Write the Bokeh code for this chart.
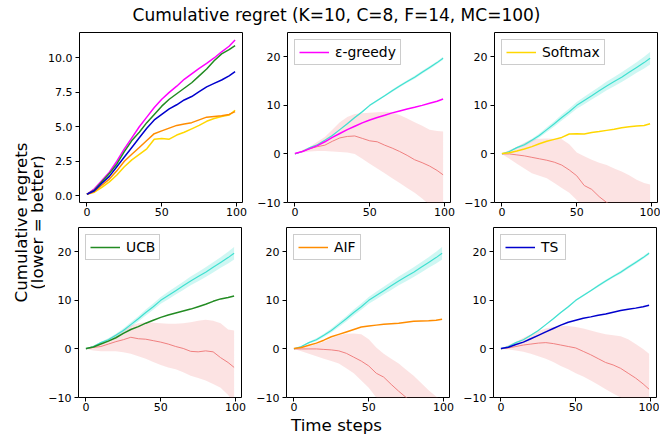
import numpy as np
from bokeh.plotting import figure
from bokeh.models import Range1d, FixedTicker, Label, NumeralTickFormatter
from bokeh.layouts import row, column
from bokeh.embed import file_html
from bokeh.resources import INLINE

# ---------------- data ----------------
T = [0, 5, 10, 15, 20, 25, 30, 35, 40, 45, 50, 55, 60, 65, 70, 75, 80, 85, 90, 95, 99]

eps_greedy = [0.1, 0.5, 1.1, 1.7, 2.5, 3.4, 4.2, 5.0, 5.7, 6.4, 7.0, 7.5, 7.95, 8.45, 8.85, 9.25, 9.6, 10.0, 10.45, 10.85, 11.3]
softmax = [0.1, 0.25, 0.6, 1.0, 1.5, 2.1, 2.6, 3.0, 3.4, 4.1, 4.15, 4.1, 4.4, 4.6, 4.85, 5.1, 5.4, 5.6, 5.75, 5.85, 6.2]
ucb = [0.1, 0.4, 1.0, 1.6, 2.3, 3.2, 4.0, 4.6, 5.3, 5.9, 6.5, 7.0, 7.4, 7.8, 8.2, 8.7, 9.2, 9.8, 10.3, 10.6, 10.9]
aif = [0.1, 0.3, 0.75, 1.2, 1.8, 2.5, 3.0, 3.5, 4.0, 4.5, 4.7, 4.9, 5.1, 5.2, 5.3, 5.5, 5.7, 5.75, 5.8, 5.9, 6.1]
ts = [0.1, 0.35, 0.9, 1.4, 2.1, 2.8, 3.5, 4.2, 4.9, 5.5, 5.9, 6.3, 6.6, 6.95, 7.2, 7.55, 7.9, 8.15, 8.4, 8.7, 9.0]

# reference (turquoise) curve and its spread
ref_curve = [0, 0.5, 1.3, 1.9, 2.8, 3.8, 5.0, 6.2, 7.5, 8.7, 10.0, 11.0, 12.0, 13.0, 14.0, 14.9, 15.8, 16.8, 17.8, 18.8, 19.7]
ref_spread_wide = [0, 0.1, 0.2, 0.3, 0.35, 0.4, 0.5, 0.55, 0.6, 0.65, 0.7, 0.75, 0.8, 0.85, 0.9, 0.95, 1.0, 1.05, 1.1, 1.2, 1.3]
ref_spread_narrow = [0, 0.05, 0.05, 0.1, 0.1, 0.1, 0.15, 0.15, 0.15, 0.2, 0.2, 0.2, 0.2, 0.25, 0.25, 0.25, 0.3, 0.3, 0.3, 0.3, 0.3]

# difference (salmon) curves with their bands
eps_diff = [0, 0.5, 1.1, 1.5, 1.8, 2.6, 3.3, 3.6, 3.7, 3.2, 2.7, 2.5, 1.8, 1.2, 0.5, -0.3, -1.2, -1.8, -2.5, -3.4, -4.3]
eps_hi = [0, 0.8, 1.5, 2.5, 3.5, 5.0, 6.5, 7.6, 8.2, 8.4, 8.5, 8.6, 8.7, 8.6, 8.0, 7.3, 6.5, 5.8, 5.0, 4.7, 4.6]
eps_lo = [0, 0.3, 0.5, 0.6, 0.6, 0.5, 0.4, 0.3, 0.0, -1.0, -2.0, -3.0, -4.0, -5.0, -6.0, -7.0, -8.0, -9.2, -10.5, -11.3, -12.0]

soft_diff = [0, 0, -0.2, -0.4, -0.7, -1.0, -1.3, -1.7, -2.3, -3.3, -4.5, -6.5, -7.3, -8.8, -10.0, -10.8, -11.5, -12.2, -13.0, -13.5, -14.0]
soft_hi = [0, 0.8, 1.5, 2.3, 3.0, 3.1, 3.2, 3.1, 3.0, 2.0, 0.3, -0.5, -1.2, -1.8, -2.3, -3.0, -3.6, -4.4, -5.3, -6.0, -6.3]
soft_lo = [0, -1.0, -2.0, -3.0, -4.0, -4.5, -5.0, -6.0, -7.0, -8.0, -9.5, -11.0, -12.0, -13.0, -14.0, -15.0, -16.0, -17.0, -18.0, -19.0, -20.0]

ucb_diff = [0, 0.3, 0.5, 1.0, 1.5, 1.9, 2.4, 2.1, 2.0, 1.7, 1.4, 1.0, 0.5, 0.1, -0.5, -0.6, -0.4, -0.6, -1.8, -2.8, -3.8]
ucb_hi = [0, 0.7, 1.3, 2.1, 3.0, 3.9, 4.8, 5.3, 5.5, 5.4, 5.3, 5.2, 5.2, 5.3, 5.5, 5.8, 6.0, 5.8, 5.3, 4.0, 3.8]
ucb_lo = [0, -0.3, -0.5, -0.5, -0.5, -0.7, -1.0, -1.5, -2.0, -2.7, -3.3, -3.8, -4.2, -4.8, -5.5, -6.0, -6.5, -7.2, -8.0, -9.5, -11.0]

aif_diff = [0, 0, 0, 0, -0.1, -0.2, -0.4, -0.9, -1.7, -2.5, -3.5, -5.0, -5.8, -7.3, -8.7, -10.0, -11.0, -11.8, -12.5, -13.0, -13.5]
aif_hi = [0, 0.2, 0.5, 1.0, 1.5, 2.2, 2.8, 3.1, 3.2, 3.0, 2.0, 0.3, -1.0, -2.0, -3.0, -4.3, -5.5, -7.0, -8.5, -9.8, -10.5]
aif_lo = [0, -0.5, -1.0, -1.5, -2.0, -2.5, -3.0, -4.0, -5.0, -6.5, -8.0, -10.0, -11.0, -12.0, -13.0, -14.0, -15.0, -16.0, -17.0, -18.0, -19.0]

ts_diff = [0, 0.2, 0.5, 0.8, 1.0, 1.2, 1.3, 1.1, 0.8, 0.5, 0.2, -0.5, -1.2, -2.0, -2.8, -3.3, -4.0, -5.0, -6.0, -7.2, -8.3]
ts_hi = [0, 0.8, 1.5, 2.3, 3.0, 3.7, 4.2, 4.5, 4.7, 4.7, 4.5, 4.2, 3.8, 3.4, 3.0, 2.8, 2.6, 2.0, 1.0, 0.0, -1.0]
ts_lo = [0, -0.1, -0.3, -0.6, -1.0, -1.5, -2.0, -2.7, -3.5, -4.2, -5.0, -5.7, -6.5, -7.4, -8.3, -9.2, -10.0, -11.0, -12.0, -13.0, -14.0]

algo_names = ["ε-greedy", "Softmax", "UCB", "AIF", "TS"]
algo_colors = ["#ff00ff", "#ffd700", "#228b22", "#ff8c00", "#0000cd"]

title_text = "Cumulative regret (K=10, C=8, F=14, MC=100)"
ylabel_lines = ["Cumulative regrets", "(lower = better)"]
xlabel_text = "Time steps"

FONT = "DejaVu Sans"
FW, FH = 163, 170
X_RANGE = (-4.95, 103.95)


def style(p, yticks, fmt=None, overrides=None):
    p.xaxis.ticker = FixedTicker(ticks=[0, 50, 100])
    p.yaxis.ticker = FixedTicker(ticks=yticks)
    if fmt is not None:
        p.yaxis.formatter = fmt
    if overrides:
        p.yaxis.major_label_overrides = overrides
    for ax in p.axis:
        ax.axis_line_color = None
        ax.major_tick_out = 4
        ax.major_tick_in = 0
        ax.minor_tick_out = 0
        ax.minor_tick_in = 0
        ax.major_tick_line_color = "black"
        ax.major_tick_line_width = 1
        ax.major_label_text_font_size = "11px"
        ax.major_label_text_font = FONT
        ax.major_label_text_color = "black"
    p.xaxis.major_label_standoff = 1
    p.yaxis.major_label_standoff = 3
    p.grid.visible = False
    p.outline_line_color = "black"
    p.outline_line_alpha = 1
    p.outline_line_width = 1
    p.background_fill_color = "white"
    p.border_fill_color = "white"


def make_fig(left, right, top, bottom, yr):
    p = figure(frame_width=FW, frame_height=FH, output_backend="svg", toolbar_location=None,
               x_range=Range1d(*X_RANGE), y_range=Range1d(*yr),
               min_border_left=left, min_border_right=right,
               min_border_top=top, min_border_bottom=bottom)
    return p


def text_fig(w, h):
    f = figure(width=w, height=h, output_backend="svg", toolbar_location=None, title=None,
               x_range=Range1d(0, w), y_range=Range1d(0, h), min_border=0)
    f.axis.visible = False
    f.grid.visible = False
    f.outline_line_color = None
    f.background_fill_color = "white"
    f.border_fill_color = "white"
    return f


# borders per column / row
col_borders = [(32, 9), (36, 8), (36, 3)]
row_borders = [(2, 22), (3, 18)]

# panel 1: all algorithms
l, r = col_borders[0]
t, b = row_borders[0]
p1 = make_fig(l, r, t, b, (-0.5, 11.85))
for vals, c in zip([eps_greedy, softmax, ucb, aif, ts], algo_colors):
    p1.line(T, vals, line_color=c, line_width=1.5)
style(p1, [0, 2.5, 5, 7.5, 10], fmt=NumeralTickFormatter(format="0.0"))

panel_specs = [
    (eps_greedy, eps_diff, eps_hi, eps_lo, ref_spread_narrow),
    (softmax, soft_diff, soft_hi, soft_lo, ref_spread_wide),
    (ucb, ucb_diff, ucb_hi, ucb_lo, ref_spread_wide),
    (aif, aif_diff, aif_hi, aif_lo, ref_spread_wide),
    (ts, ts_diff, ts_hi, ts_lo, ref_spread_narrow),
]
positions = [(0, 1), (0, 2), (1, 0), (1, 1), (1, 2)]

figs = {(0, 0): p1}
for (vals, diff, hi, lo, spread), name, color, (ri, ci) in zip(panel_specs, algo_names, algo_colors, positions):
    l, r = col_borders[ci]
    t, b = row_borders[ri]
    p = make_fig(l, r, t, b, (-10, 25))
    ref_arr = np.array(ref_curve)
    sp = np.array(spread)
    p.varea(x=T, y1=lo, y2=hi, fill_color="#f08080", fill_alpha=0.22)
    p.varea(x=T, y1=list(ref_arr - sp), y2=list(ref_arr + sp), fill_color="#40e0d0", fill_alpha=0.25)
    p.line(T, diff, line_color="#f08080", line_width=1)
    p.line(T, ref_curve, line_color="#40e0d0", line_width=1.2)
    p.line(T, vals, line_color=color, line_width=1.5, legend_label=name)
    style(p, [-10, 0, 10, 20], overrides={-10: "\u221210"})
    lg = p.legend[0]
    lg.location = "top_left"
    lg.label_text_font = FONT
    lg.label_text_font_size = "13.9px"
    lg.label_text_color = "black"
    lg.glyph_width = 30
    lg.glyph_height = 16
    lg.label_height = 16
    lg.label_standoff = 6
    lg.padding = 4
    lg.margin = 7
    lg.spacing = 0
    lg.border_line_color = "#cccccc"
    lg.border_line_alpha = 1
    lg.border_line_width = 1
    lg.background_fill_alpha = 0.8
    figs[(ri, ci)] = p

# title strip
TW, TH = 659, 30
tfig = text_fig(TW, TH)
tfig.add_layout(Label(x=336, y=15.5, text=title_text, text_align="center", text_baseline="alphabetic",
                      text_font=FONT, text_font_size="17px", text_color="black"))

# y label strip
YW, YH = 45, 194 + 191
yfig = text_fig(YW, YH)
for xx, txt in zip([20.5, 36], ylabel_lines):
    yfig.add_layout(Label(x=xx, y=YH - (222 - 30), text=txt, angle=np.pi / 2, text_align="center",
                          text_baseline="middle", text_font=FONT, text_font_size="16.7px",
                          text_color="black"))

# x label strip
XW, XH = 659, 21
xfig = text_fig(XW, XH)
xfig.add_layout(Label(x=336, y=12, text=xlabel_text, text_align="center", text_baseline="alphabetic",
                      text_font=FONT, text_font_size="16.7px", text_color="black"))

grid = column(row(figs[(0, 0)], figs[(0, 1)], figs[(0, 2)]),
              row(figs[(1, 0)], figs[(1, 1)], figs[(1, 2)]))
layout = column(tfig, row(yfig, grid), xfig)

open("out.html", "w").write(file_html(layout, INLINE))
